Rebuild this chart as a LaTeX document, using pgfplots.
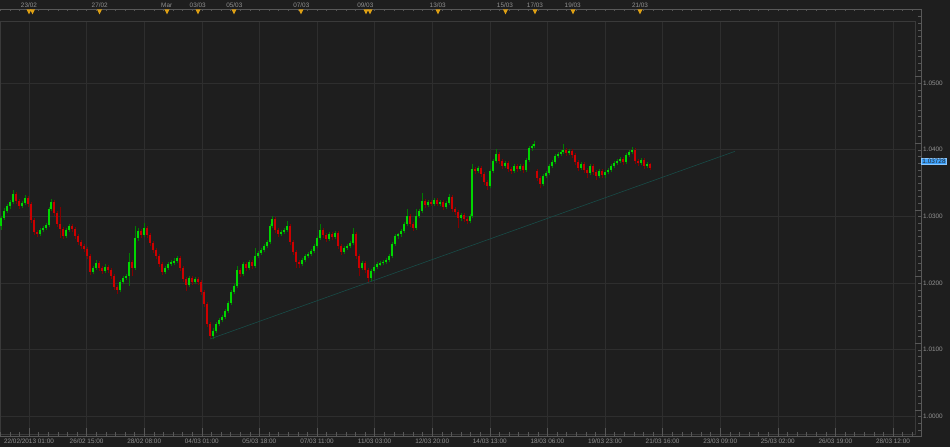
\documentclass[border=0pt]{standalone}
\usepackage{pgfplots}
\pgfplotsset{compat=1.18}
\usepackage{pgfplotstable}
\usepackage{fontspec}
\setmainfont{Liberation Sans}

\definecolor{bgc}{RGB}{30,30,30}
\definecolor{gridc}{RGB}{46,46,46}
\definecolor{framec}{RGB}{58,58,58}
\definecolor{rulerc}{RGB}{88,88,88}
\definecolor{textc}{RGB}{145,145,145}
\definecolor{markc}{RGB}{222,160,20}
\definecolor{upbody}{RGB}{0,215,0}
\definecolor{upwick}{RGB}{0,125,0}
\definecolor{dnbody}{RGB}{205,0,0}
\definecolor{dnwick}{RGB}{130,0,0}
\definecolor{trendc}{RGB}{24,76,72}
\definecolor{tagc}{RGB}{60,160,250}

% hourly-ish candles, x = position along the time ruler
\pgfplotstableread{
x o h l c
1 1.0285 1.0301 1.0280 1.0297
4 1.0297 1.0312 1.0294 1.0308
7 1.0308 1.0318 1.0305 1.0315
10 1.0315 1.0324 1.0311 1.0321
13 1.0321 1.0339 1.0318 1.0333
16 1.0333 1.0336 1.0319 1.0323
19 1.0323 1.0326 1.0311 1.0315
22 1.0315 1.0323 1.0312 1.0320
25 1.0320 1.0332 1.0317 1.0327
28 1.0327 1.0330 1.0314 1.0318
31 1.0318 1.0321 1.0290 1.0294
34 1.0294 1.0297 1.0272 1.0276
37 1.0276 1.0280 1.0269 1.0273
40 1.0273 1.0283 1.0270 1.0279
43 1.0279 1.0286 1.0276 1.0282
46 1.0282 1.0290 1.0279 1.0287
49 1.0287 1.0314 1.0284 1.0311
51 1.0311 1.0326 1.0308 1.0321
54 1.0321 1.0324 1.0301 1.0305
57 1.0305 1.0308 1.0284 1.0288
60 1.0288 1.0314 1.0267 1.0281
63 1.0281 1.0284 1.0266 1.0270
66 1.0270 1.0282 1.0267 1.0279
69 1.0279 1.0289 1.0276 1.0285
72 1.0285 1.0288 1.0277 1.0281
75 1.0281 1.0284 1.0266 1.0270
78 1.0270 1.0274 1.0257 1.0261
81 1.0261 1.0264 1.0251 1.0255
84 1.0255 1.0258 1.0247 1.0251
87 1.0251 1.0254 1.0236 1.0240
90 1.0240 1.0243 1.0212 1.0216
93 1.0216 1.0226 1.0213 1.0222
96 1.0222 1.0234 1.0219 1.0230
99 1.0230 1.0233 1.0218 1.0222
102 1.0222 1.0225 1.0214 1.0218
105 1.0218 1.0228 1.0215 1.0224
108 1.0224 1.0227 1.0215 1.0219
111 1.0219 1.0222 1.0206 1.0210
114 1.0210 1.0213 1.0190 1.0194
117 1.0194 1.0197 1.0183 1.0189
120 1.0189 1.0204 1.0186 1.0201
123 1.0201 1.0210 1.0198 1.0207
126 1.0207 1.0213 1.0204 1.0210
129 1.0210 1.0245 1.0195 1.0231
132 1.0231 1.0234 1.0210 1.0222
135 1.0222 1.0285 1.0219 1.0267
138 1.0267 1.0282 1.0263 1.0278
141 1.0278 1.0281 1.0268 1.0272
144 1.0272 1.0290 1.0269 1.0282
147 1.0282 1.0285 1.0268 1.0272
150 1.0272 1.0275 1.0256 1.0260
153 1.0260 1.0263 1.0245 1.0249
156 1.0249 1.0252 1.0236 1.0240
159 1.0240 1.0243 1.0224 1.0228
162 1.0228 1.0231 1.0212 1.0216
165 1.0216 1.0226 1.0213 1.0222
168 1.0222 1.0232 1.0219 1.0228
171 1.0228 1.0234 1.0225 1.0231
174 1.0231 1.0237 1.0227 1.0233
177 1.0233 1.0241 1.0230 1.0237
180 1.0237 1.0240 1.0218 1.0222
183 1.0222 1.0225 1.0202 1.0206
186 1.0206 1.0209 1.0188 1.0197
189 1.0197 1.0211 1.0194 1.0207
192 1.0207 1.0210 1.0197 1.0201
195 1.0201 1.0209 1.0198 1.0206
198 1.0206 1.0209 1.0197 1.0201
201 1.0201 1.0204 1.0182 1.0186
204 1.0186 1.0189 1.0164 1.0168
207 1.0168 1.0171 1.0134 1.0138
210 1.0138 1.0141 1.0116 1.0120
213 1.0120 1.0132 1.0116 1.0128
216 1.0128 1.0142 1.0125 1.0138
219 1.0138 1.0147 1.0135 1.0144
222 1.0144 1.0152 1.0141 1.0149
225 1.0149 1.0161 1.0146 1.0158
228 1.0158 1.0173 1.0155 1.0170
231 1.0170 1.0190 1.0167 1.0186
234 1.0186 1.0199 1.0183 1.0195
237 1.0195 1.0225 1.0192 1.0219
240 1.0219 1.0222 1.0209 1.0213
243 1.0213 1.0232 1.0210 1.0228
246 1.0228 1.0231 1.0218 1.0222
249 1.0222 1.0235 1.0219 1.0231
252 1.0231 1.0234 1.0221 1.0225
255 1.0225 1.0252 1.0222 1.0240
258 1.0240 1.0248 1.0237 1.0245
261 1.0245 1.0252 1.0242 1.0249
264 1.0249 1.0258 1.0246 1.0255
267 1.0255 1.0264 1.0252 1.0261
270 1.0261 1.0288 1.0258 1.0285
272 1.0285 1.0300 1.0282 1.0296
275 1.0296 1.0299 1.0275 1.0279
278 1.0279 1.0282 1.0269 1.0273
281 1.0273 1.0279 1.0270 1.0276
284 1.0276 1.0282 1.0273 1.0279
287 1.0279 1.0293 1.0276 1.0285
290 1.0285 1.0288 1.0257 1.0261
293 1.0261 1.0264 1.0242 1.0246
296 1.0246 1.0249 1.0222 1.0231
299 1.0231 1.0234 1.0222 1.0228
302 1.0228 1.0237 1.0225 1.0234
305 1.0234 1.0243 1.0231 1.0240
308 1.0240 1.0246 1.0237 1.0243
311 1.0243 1.0251 1.0240 1.0248
314 1.0248 1.0258 1.0245 1.0255
317 1.0255 1.0270 1.0252 1.0267
320 1.0267 1.0288 1.0264 1.0279
323 1.0279 1.0282 1.0268 1.0272
326 1.0272 1.0275 1.0262 1.0266
329 1.0266 1.0276 1.0263 1.0273
332 1.0273 1.0276 1.0265 1.0269
335 1.0269 1.0278 1.0266 1.0275
338 1.0275 1.0278 1.0251 1.0255
341 1.0255 1.0258 1.0242 1.0246
344 1.0246 1.0255 1.0243 1.0252
347 1.0252 1.0258 1.0249 1.0255
350 1.0255 1.0263 1.0252 1.0260
353 1.0260 1.0282 1.0257 1.0273
356 1.0273 1.0276 1.0236 1.0240
359 1.0240 1.0243 1.0210 1.0222
362 1.0222 1.0233 1.0219 1.0230
365 1.0230 1.0233 1.0215 1.0219
368 1.0219 1.0222 1.0200 1.0207
371 1.0207 1.0221 1.0203 1.0218
374 1.0218 1.0227 1.0215 1.0224
377 1.0224 1.0231 1.0221 1.0228
380 1.0228 1.0233 1.0225 1.0230
383 1.0230 1.0234 1.0227 1.0232
386 1.0232 1.0237 1.0228 1.0234
389 1.0234 1.0243 1.0231 1.0240
392 1.0240 1.0261 1.0237 1.0258
395 1.0258 1.0273 1.0255 1.0270
398 1.0270 1.0275 1.0266 1.0273
401 1.0273 1.0281 1.0269 1.0278
404 1.0278 1.0291 1.0275 1.0288
407 1.0288 1.0311 1.0285 1.0300
410 1.0300 1.0303 1.0284 1.0288
413 1.0288 1.0291 1.0278 1.0282
416 1.0282 1.0311 1.0279 1.0300
419 1.0300 1.0311 1.0297 1.0308
422 1.0308 1.0335 1.0305 1.0323
425 1.0323 1.0326 1.0313 1.0317
428 1.0317 1.0324 1.0314 1.0321
431 1.0321 1.0324 1.0315 1.0318
434 1.0318 1.0327 1.0315 1.0324
437 1.0324 1.0327 1.0315 1.0318
440 1.0318 1.0324 1.0315 1.0321
443 1.0321 1.0324 1.0310 1.0314
446 1.0314 1.0323 1.0311 1.0320
449 1.0320 1.0333 1.0317 1.0329
452 1.0329 1.0332 1.0307 1.0311
455 1.0311 1.0314 1.0302 1.0306
458 1.0306 1.0309 1.0282 1.0297
461 1.0297 1.0305 1.0293 1.0302
464 1.0302 1.0305 1.0292 1.0296
467 1.0296 1.0299 1.0289 1.0293
470 1.0293 1.0303 1.0290 1.0300
472 1.0300 1.0378 1.0297 1.0371
475 1.0371 1.0374 1.0364 1.0368
478 1.0368 1.0375 1.0365 1.0372
481 1.0372 1.0375 1.0359 1.0363
484 1.0363 1.0366 1.0347 1.0351
487 1.0351 1.0354 1.0340 1.0345
490 1.0345 1.0371 1.0342 1.0368
493 1.0368 1.0386 1.0365 1.0383
496 1.0383 1.0401 1.0380 1.0393
499 1.0393 1.0396 1.0379 1.0383
502 1.0383 1.0386 1.0371 1.0375
505 1.0375 1.0383 1.0372 1.0380
508 1.0380 1.0383 1.0367 1.0371
511 1.0371 1.0374 1.0364 1.0368
514 1.0368 1.0378 1.0365 1.0375
517 1.0375 1.0378 1.0367 1.0371
520 1.0371 1.0378 1.0368 1.0375
523 1.0375 1.0378 1.0365 1.0369
526 1.0369 1.0387 1.0366 1.0384
529 1.0384 1.0405 1.0381 1.0402
532 1.0402 1.0408 1.0398 1.0405
534 1.0405 1.0413 1.0402 1.0408
537 1.0368 1.0371 1.0353 1.0357
540 1.0357 1.0360 1.0342 1.0348
543 1.0348 1.0363 1.0345 1.0360
546 1.0360 1.0368 1.0357 1.0365
549 1.0365 1.0378 1.0362 1.0375
552 1.0375 1.0384 1.0372 1.0381
555 1.0381 1.0393 1.0378 1.0390
558 1.0390 1.0396 1.0387 1.0393
561 1.0393 1.0399 1.0390 1.0396
563 1.0396 1.0408 1.0393 1.0399
566 1.0399 1.0402 1.0391 1.0395
569 1.0395 1.0401 1.0392 1.0398
572 1.0398 1.0401 1.0388 1.0392
575 1.0392 1.0395 1.0377 1.0381
578 1.0381 1.0384 1.0368 1.0372
581 1.0372 1.0381 1.0369 1.0378
584 1.0378 1.0381 1.0365 1.0369
587 1.0369 1.0372 1.0357 1.0365
590 1.0365 1.0378 1.0362 1.0375
593 1.0375 1.0378 1.0362 1.0366
596 1.0366 1.0369 1.0354 1.0360
599 1.0360 1.0371 1.0357 1.0368
602 1.0368 1.0371 1.0358 1.0362
605 1.0362 1.0369 1.0358 1.0366
608 1.0366 1.0372 1.0363 1.0369
611 1.0369 1.0378 1.0366 1.0375
614 1.0375 1.0383 1.0372 1.0380
617 1.0380 1.0386 1.0377 1.0383
620 1.0383 1.0389 1.0380 1.0386
623 1.0386 1.0389 1.0377 1.0381
626 1.0381 1.0395 1.0378 1.0392
629 1.0392 1.0399 1.0389 1.0396
632 1.0396 1.0404 1.0393 1.0399
635 1.0399 1.0402 1.0379 1.0383
638 1.0383 1.0386 1.0376 1.0380
641 1.0380 1.0387 1.0377 1.0384
644 1.0384 1.0387 1.0371 1.0375
647 1.0375 1.0381 1.0372 1.0378
650 1.0378 1.0380 1.0370 1.03728
}\candles

\pgfplotsset{
  candle/.style 2 args={draw=none, mark=none, forget plot,
    error bars/.cd, y dir=both, y explicit, error mark=none,
    error bar style={draw=#1, line width=#2, solid}},
  upbar/.style={restrict expr to domain={\thisrow{c}-\thisrow{o}}{0:1}},
  dnbar/.style={restrict expr to domain={\thisrow{c}-\thisrow{o}}{-1:-0.00001}},
}

\begin{document}
\begin{tikzpicture}[x=1pt, y=1pt, font=\fontsize{6.4}{7}\selectfont]
\fill[bgc] (0,0) rectangle (950,447);

\begin{axis}[
  at={(0,19)}, anchor=south west,
  scale only axis, width=915pt, height=413pt,
  xmin=0, xmax=915, ymin=0.9973, ymax=1.05925,
  axis line style={draw=framec, line width=0.6pt},
  grid=major, major grid style={draw=gridc, line width=0.6pt},
  major tick length=0pt, minor tick length=0pt,
  xtick={29,86.6,144.2,201.8,259.4,317,374.6,432.2,489.8,547.4,605,662.6,720.2,777.8,835.4,893},
  xticklabels={22/02/2013 01:00,26/02 15:00,28/02 08:00,04/03 01:00,05/03 18:00,07/03 11:00,11/03 03:00,12/03 20:00,14/03 13:00,18/03 06:00,19/03 23:00,21/03 16:00,23/03 09:00,25/03 02:00,26/03 19:00,28/03 12:00},
  xticklabel style={anchor=base, inner sep=0pt, yshift=-9.5pt, text=textc},
  ytick={1.00,1.01,1.02,1.03,1.04,1.05},
  yticklabel pos=right,
  yticklabel style={anchor=base west, inner sep=0pt, xshift=8pt, yshift=-2.3pt, text=textc,
    /pgf/number format/.cd, fixed, fixed zerofill, precision=4, assume math mode=true},
]
% wicks
\addplot[upbar, candle={upwick}{0.7pt}] table[x=x, y expr={(\thisrow{h}+\thisrow{l})/2}, y error expr={(\thisrow{h}-\thisrow{l})/2}] {\candles};
\addplot[dnbar, candle={dnwick}{0.7pt}] table[x=x, y expr={(\thisrow{h}+\thisrow{l})/2}, y error expr={(\thisrow{h}-\thisrow{l})/2}] {\candles};
% bodies
\addplot[upbar, candle={upbody}{1.9pt}] table[x=x, y expr={(\thisrow{o}+\thisrow{c})/2}, y error expr={abs(\thisrow{c}-\thisrow{o})/2}] {\candles};
\addplot[dnbar, candle={dnbody}{1.9pt}] table[x=x, y expr={(\thisrow{o}+\thisrow{c})/2}, y error expr={abs(\thisrow{c}-\thisrow{o})/2}] {\candles};
% trend line
\addplot[trendc, line width=0.6pt, forget plot] coordinates {(210,1.0116) (735,1.03975)};
\end{axis}

% rulers
\draw[rulerc, line width=0.6pt] (0,438) -- (921,438) -- (921,11) -- (0,11);
\foreach \i in {0,...,95} {
  \pgfmathsetmacro{\xx}{0.2+9.6*\i}
  \draw[rulerc, line width=0.5pt] (\xx,438) -- (\xx,435.5);
  \pgfmathtruncatemacro{\m}{mod(\i,6)}
  \ifnum\m=3
    \draw[rulerc, line width=0.5pt] (\xx,11) -- (\xx,19);
  \else
    \draw[rulerc, line width=0.5pt] (\xx,11) -- (\xx,15);
  \fi
}
\foreach \k in {-3,...,59} {
  \pgfmathsetmacro{\yy}{37+6.6667*\k}
  \pgfmathtruncatemacro{\m}{mod(\k+30,10)}
  \ifnum\m=0
    \draw[rulerc, line width=0.5pt] (915,\yy) -- (921,\yy);
  \else
    \draw[rulerc, line width=0.5pt] (918,\yy) -- (921,\yy);
  \fi
}

% event markers
\foreach \X in {29,32.5,99.5,167,198,234,301,366,370,438,505.5,535,573,640} {
  \fill[markc] (\X-2.4,437.5) -- (\X+2.4,437.5) -- (\X,432.6) -- cycle;
}
\foreach \X/\t in {29/23\slash 02,99.7/27\slash 02,166.7/Mar,197.7/03\slash 03,234.3/05\slash 03,301.3/07\slash 03,365.3/09\slash 03,437.7/13\slash 03,505/15\slash 03,535/17\slash 03,572.7/19\slash 03,640/21\slash 03} {
  \node[anchor=base, inner sep=0pt, text=textc] at (\X,439.7) {\t};
}

% last price tag
\node[fill=tagc, draw=tagc!60!white, line width=0.4pt, inner sep=0.9pt, text=black!85] at (934,285.5) {1.03728};

\pgfresetboundingbox
\path[use as bounding box] (0,0) rectangle (950,447);
\end{tikzpicture}
\end{document}
